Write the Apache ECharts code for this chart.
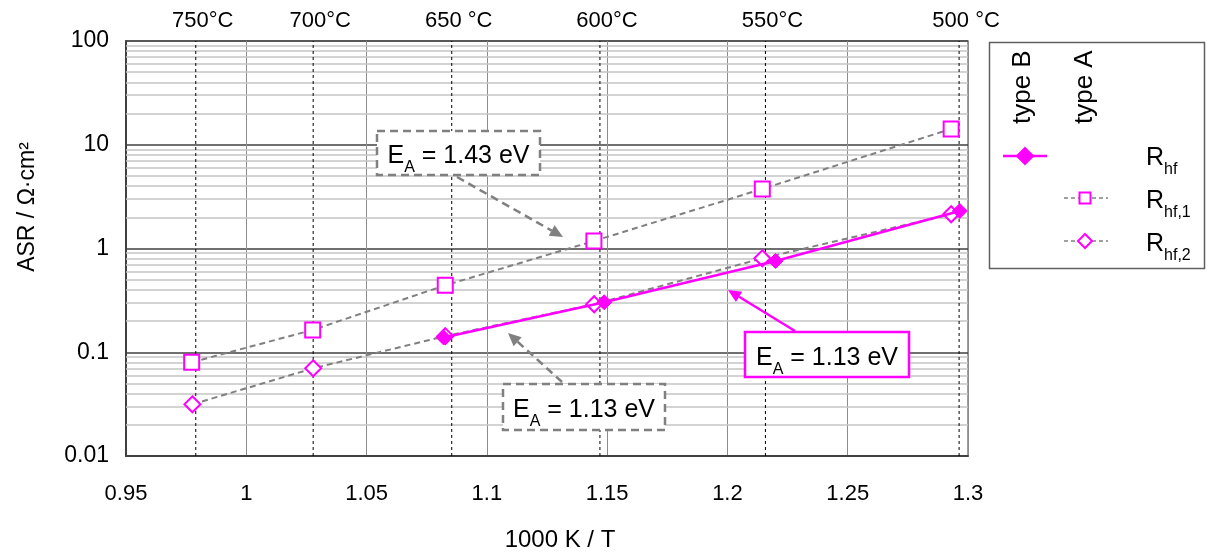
<!DOCTYPE html>
<html><head><meta charset="utf-8">
<script src="https://cdn.jsdelivr.net/npm/echarts@6/dist/echarts.min.js"></script>
<style>html,body{margin:0;padding:0;background:#fff}#c{width:1212px;height:556px}</style>
</head><body><div id="c"></div>
<script>
// ---- data ----
const xTicks = [0.95, 1, 1.05, 1.1, 1.15, 1.2, 1.25, 1.3];
const yTicks = [0.01, 0.1, 1, 10, 100];
const tempX = [0.979, 1.0278, 1.0854, 1.147, 1.2158, 1.2963];
const tempLabels = ['750°C', '700°C', '650 °C', '600°C', '550°C', '500 °C'];
const rhf1X = [0.9773, 1.0276, 1.0827, 1.1445, 1.2145, 1.293];
const rhf1Y = [0.080, 0.164, 0.442, 1.18, 3.75, 14.2];
const rhf2X = [0.9776, 1.0278, 1.0827, 1.1446, 1.2145, 1.293];
const rhf2Y = [0.0315, 0.070, 0.143, 0.290, 0.804, 2.14];
const rhfX = [1.082, 1.1488, 1.22, 1.2966];
const rhfY = [0.139, 0.303, 0.758, 2.30];
const annotTexts = ['1.43 eV', '1.13 eV', '1.13 eV'];

const FONT = 'Arial, "Liberation Sans", sans-serif';
const MAG = '#ff00ff';
const GRAY = '#808080';

const pairs = (xs, ys) => xs.map((x, i) => [x, ys[i]]);

// minor log gridlines (2..9 per decade)
const minorLines = [];
for (let d = -2; d < 2; d++) for (let m = 2; m <= 9; m++) minorLines.push({ yAxis: m * Math.pow(10, d) });

const chart = echarts.init(document.getElementById('c'));

function arrow(x1, y1, x2, y2, color, dash, w) {
  const a = Math.atan2(y2 - y1, x2 - x1), L = 13, H = 6;
  const bx = x2 - L * Math.cos(a), by = y2 - L * Math.sin(a);
  const px = -Math.sin(a) * H, py = Math.cos(a) * H;
  return [
    { type: 'line', z: 20, shape: { x1, y1, x2: bx, y2: by }, style: { stroke: color, lineWidth: w, lineDash: dash } },
    { type: 'polygon', z: 20, shape: { points: [[x2, y2], [bx + px, by + py], [bx - px, by - py]] }, style: { fill: color } }
  ];
}
const richE = { fontSize: 25, fontFamily: FONT, fill: '#000', lineHeight: 30, verticalAlign: 'bottom' };
const richS = { fontSize: 16, fontFamily: FONT, fill: '#000', lineHeight: 30, verticalAlign: 'bottom', padding: [0, 0, -7, 0] };
function box(x, y, wd, ht, color, dash, txt) {
  return [
    { type: 'rect', z: 21, shape: { x, y, width: wd, height: ht }, style: { fill: '#fff', stroke: color, lineWidth: 2.5, lineDash: dash } },
    { type: 'text', z: 22, x: x + wd / 2, y: y + ht / 2 + 1, style: {
      text: '{e|E}{s|A}{e| = ' + txt + '}', align: 'center', verticalAlign: 'middle', rich: { e: richE, s: richS } } }
  ];
}
function legText(x, y, main, sub) {
  return { type: 'text', z: 22, x, y, style: { text: '{e|' + main + '}{s|' + sub + '}', align: 'left', verticalAlign: 'middle',
    rich: { e: richE, s: richS } } };
}
function diamond(cx, cy, r, fill) {
  return { type: 'polygon', z: 22, shape: { points: [[cx, cy - r], [cx + r, cy], [cx, cy + r], [cx - r, cy]] }, style: { fill: fill ? MAG : '#fff', stroke: MAG, lineWidth: 2 } };
}

const graphics = [].concat(
  [{ type: 'text', x: 28, y: 207, rotation: Math.PI / 2, style: { text: 'ASR / Ω·cm²', fontSize: 23, fontFamily: FONT, fill: '#000', align: 'center', verticalAlign: 'middle' } },
   { type: 'text', x: 560, y: 540, style: { text: '1000 K / T', fontSize: 24, fontFamily: FONT, fill: '#000', align: 'center', verticalAlign: 'middle' } }],
  arrow(457, 177, 563, 237, GRAY, [8, 5], 2.5),
  box(377, 131, 163, 44, GRAY, [8, 5], annotTexts[0]),
  arrow(562, 382, 508, 333, GRAY, [8, 5], 2.5),
  box(503, 384, 162, 46, GRAY, [8, 5], annotTexts[1]),
  arrow(795, 331, 728, 290, MAG, null, 2.5),
  box(745, 332, 164, 45, MAG, null, annotTexts[2]),
  [{ type: 'rect', z: 20, shape: { x: 989.5, y: 42.5, width: 215, height: 226 }, style: { fill: '#fff', stroke: '#606060', lineWidth: 1.5 } },
   { type: 'text', z: 22, x: 1023, y: 124, rotation: Math.PI / 2, style: { text: 'type B', fontSize: 26, fontFamily: FONT, fill: '#000', align: 'left', verticalAlign: 'middle' } },
   { type: 'text', z: 22, x: 1085, y: 124, rotation: Math.PI / 2, style: { text: 'type A', fontSize: 26, fontFamily: FONT, fill: '#000', align: 'left', verticalAlign: 'middle' } },
   { type: 'line', z: 21, shape: { x1: 1003, y1: 156, x2: 1047, y2: 156 }, style: { stroke: MAG, lineWidth: 2.5 } },
   diamond(1025, 156, 8, true),
   { type: 'line', z: 21, shape: { x1: 1064, y1: 198, x2: 1108, y2: 198 }, style: { stroke: GRAY, lineWidth: 1.5, lineDash: [4, 3] } },
   { type: 'rect', z: 22, shape: { x: 1079.5, y: 192.5, width: 11, height: 11 }, style: { fill: '#fff', stroke: MAG, lineWidth: 2 } },
   { type: 'line', z: 21, shape: { x1: 1064, y1: 241, x2: 1108, y2: 241 }, style: { stroke: GRAY, lineWidth: 1.5, lineDash: [4, 3] } },
   diamond(1085, 241, 7, false),
   legText(1146, 156, 'R', 'hf'),
   legText(1146, 199, 'R', 'hf,1'),
   legText(1146, 242, 'R', 'hf,2')]
);

const tempSeries = tempX.map((x, i) => ({
  name: 'T' + i, type: 'line', z: 2, silent: true,
  data: [[x, 0.01], [x, 100]],
  symbol: 'none',
  lineStyle: { color: '#000', width: 1, type: [3, 3] }
}));

chart.setOption({
  animation: false,
  backgroundColor: '#fff',
  textStyle: { fontFamily: FONT },
  grid: { left: 126, top: 41, right: 244, bottom: 100, show: true, borderColor: '#7f7f7f', borderWidth: 1.5 },
  xAxis: {
    type: 'value', min: 0.95, max: 1.3, interval: 0.05,
    axisLine: { lineStyle: { color: '#404040', width: 2 } },
    axisTick: { show: false },
    axisLabel: { fontSize: 22, color: '#000', margin: 27, showMinLabel: true, showMaxLabel: true,
      formatter: v => { const i = xTicks.findIndex(t => Math.abs(t - v) < 1e-6); return i >= 0 ? String(xTicks[i]) : ''; } },
    splitLine: { show: true, lineStyle: { color: '#8c8c8c', width: 1 } }
  },
  yAxis: {
    type: 'log', logBase: 10, min: 0.01, max: 100, splitNumber: 4,
    axisLine: { show: true, lineStyle: { color: '#404040', width: 2 } },
    axisTick: { show: false },
    axisLabel: { fontSize: 23, color: '#000', margin: 17,
      formatter: v => { const i = yTicks.findIndex(t => Math.abs(Math.log10(t) - Math.log10(v)) < 1e-6); return i >= 0 ? String(yTicks[i]) : ''; } },
    splitLine: { show: true, lineStyle: { color: '#404040', width: 1.5 } }
  },
  graphic: graphics,
  series: [
    {
      name: 'gridhelper', type: 'line', data: [[0.95, 0.01]], symbol: 'none', lineStyle: { opacity: 0 }, silent: true, z: 1,
      markLine: {
        silent: true, symbol: 'none', z: 1, animation: false,
        data: minorLines.map(d => Object.assign({}, d, { lineStyle: { color: '#c4c4c4', width: 1.5, type: 'solid' }, label: { show: false } }))
      }
    }
  ].concat(tempSeries, [
    {
      name: 'Rhf,1', type: 'line', data: pairs(rhf1X, rhf1Y), z: 3,
      symbol: 'rect', symbolSize: 15, showAllSymbol: true,
      lineStyle: { color: GRAY, width: 2, type: [6, 4] },
      itemStyle: { color: '#fff', borderColor: MAG, borderWidth: 2 }
    },
    {
      name: 'Rhf,2', type: 'line', data: pairs(rhf2X, rhf2Y), z: 3,
      symbol: 'diamond', symbolSize: 16, showAllSymbol: true,
      lineStyle: { color: GRAY, width: 2, type: [6, 4] },
      itemStyle: { color: '#fff', borderColor: MAG, borderWidth: 2 }
    },
    {
      name: 'Rhf', type: 'line', data: pairs(rhfX, rhfY), z: 4,
      symbol: 'diamond', symbolSize: 15, showAllSymbol: true,
      lineStyle: { color: MAG, width: 2.5 },
      itemStyle: { color: MAG, borderColor: MAG, borderWidth: 1 }
    }
  ])
});

// temperature labels on top, positioned through the axis scale
const tempText = tempX.map((x, i) => {
  const p = chart.convertToPixel({ gridIndex: 0 }, [x, 100]);
  return { type: 'text', z: 22, x: p[0] + 7, y: p[1] - 20, style: { text: tempLabels[i], fontSize: 22, fontFamily: FONT, fill: '#000', align: 'center', verticalAlign: 'middle' } };
});
chart.setOption({ graphic: graphics.concat(tempText) }, { replaceMerge: ['graphic'] });
</script></body></html>
